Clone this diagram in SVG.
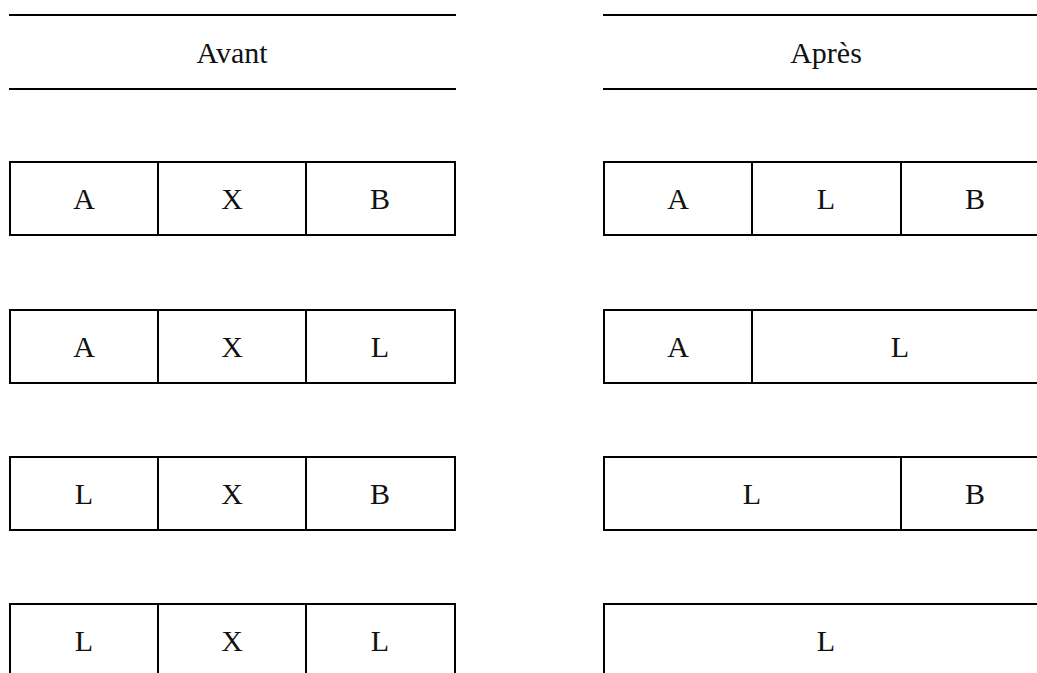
<svg xmlns="http://www.w3.org/2000/svg" width="1037" height="673" viewBox="0 0 1037 673">
<style>
.ln{stroke:#000;stroke-width:2;fill:none}
.bx{stroke:#000;stroke-width:2;fill:#fff}
.t{font-family:"Liberation Serif","Times New Roman",serif;font-size:30px;fill:#111;text-anchor:middle}
</style>
<rect width="1037" height="673" fill="#fff"/>
<g id="header-avant">
<line class="ln" x1="9" y1="15" x2="456" y2="15"/>
<line class="ln" x1="9" y1="89" x2="456" y2="89"/>
<text class="t" x="232" y="63">Avant</text>
</g>
<g id="header-apres">
<line class="ln" x1="603" y1="15" x2="1037" y2="15"/>
<line class="ln" x1="603" y1="89" x2="1037" y2="89"/>
<text class="t" x="826" y="63">Après</text>
</g>
<g id="avant-1">
<rect class="bx" x="10" y="162" width="445" height="73"/>
<line class="ln" x1="158" y1="162" x2="158" y2="235"/>
<line class="ln" x1="306" y1="162" x2="306" y2="235"/>
<text class="t" x="84" y="209">A</text><text class="t" x="232" y="209">X</text><text class="t" x="380" y="209">B</text>
</g>
<g id="avant-2">
<rect class="bx" x="10" y="310" width="445" height="73"/>
<line class="ln" x1="158" y1="310" x2="158" y2="383"/>
<line class="ln" x1="306" y1="310" x2="306" y2="383"/>
<text class="t" x="84" y="357">A</text><text class="t" x="232" y="357">X</text><text class="t" x="380" y="357">L</text>
</g>
<g id="avant-3">
<rect class="bx" x="10" y="457" width="445" height="73"/>
<line class="ln" x1="158" y1="457" x2="158" y2="530"/>
<line class="ln" x1="306" y1="457" x2="306" y2="530"/>
<text class="t" x="84" y="504">L</text><text class="t" x="232" y="504">X</text><text class="t" x="380" y="504">B</text>
</g>
<g id="avant-4">
<rect class="bx" x="10" y="604" width="445" height="73"/>
<line class="ln" x1="158" y1="604" x2="158" y2="677"/>
<line class="ln" x1="306" y1="604" x2="306" y2="677"/>
<text class="t" x="84" y="651">L</text><text class="t" x="232" y="651">X</text><text class="t" x="380" y="651">L</text>
</g>
<g id="apres-1">
<rect class="bx" x="604" y="162" width="445" height="73"/>
<line class="ln" x1="752" y1="162" x2="752" y2="235"/>
<line class="ln" x1="901" y1="162" x2="901" y2="235"/>
<text class="t" x="678" y="209">A</text><text class="t" x="826" y="209">L</text><text class="t" x="975" y="209">B</text>
</g>
<g id="apres-2">
<rect class="bx" x="604" y="310" width="445" height="73"/>
<line class="ln" x1="752" y1="310" x2="752" y2="383"/>
<text class="t" x="678" y="357">A</text><text class="t" x="900" y="357">L</text>
</g>
<g id="apres-3">
<rect class="bx" x="604" y="457" width="445" height="73"/>
<line class="ln" x1="901" y1="457" x2="901" y2="530"/>
<text class="t" x="752" y="504">L</text><text class="t" x="975" y="504">B</text>
</g>
<g id="apres-4">
<rect class="bx" x="604" y="604" width="445" height="73"/>
<text class="t" x="826" y="651">L</text>
</g>
<g id="connectors"></g>
</svg>
